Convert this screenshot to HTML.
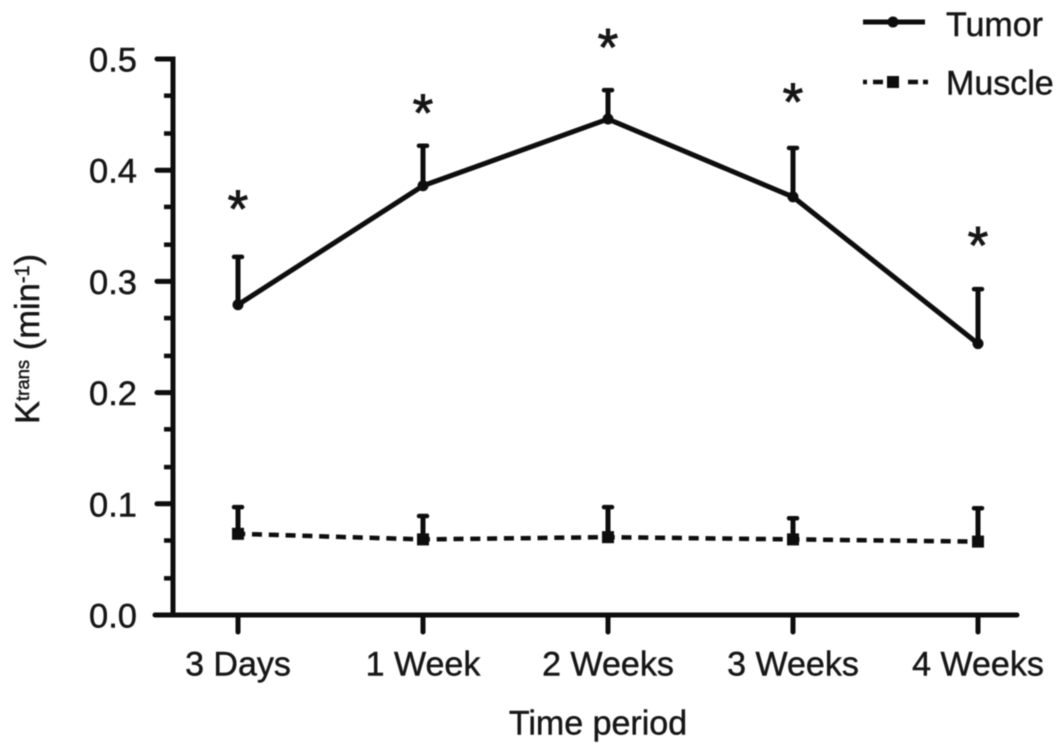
<!DOCTYPE html>
<html lang="en">
<head>
<meta charset="utf-8">
<title>Ktrans over time</title>
<style>
html,body{margin:0;padding:0;background:#fff;}
svg{display:block;}
text{font-family:"Liberation Sans",Arial,sans-serif;fill:#181818;stroke:#181818;stroke-width:0.45px;}
</style>
</head>
<body>
<svg id="chart" xmlns="http://www.w3.org/2000/svg" width="1063" height="755" viewBox="0 0 1063 755">
<defs><filter id="soft" x="-5%" y="-5%" width="110%" height="110%"><feGaussianBlur stdDeviation="0.6"/></filter></defs>
<rect width="1063" height="755" fill="#fff"/>
<g id="plot" filter="url(#soft)"></g>
</svg>
<script>
const categories = ['3 Days', '1 Week', '2 Weeks', '3 Weeks', '4 Weeks'];
const tumorValues = [0.279, 0.386, 0.446, 0.376, 0.244];
const tumorUpper = [0.322, 0.422, 0.472, 0.420, 0.293];
const muscleValues = [0.073, 0.068, 0.070, 0.068, 0.066];
const muscleUpper = [0.097, 0.089, 0.097, 0.087, 0.096];
const starValues = [0.372, 0.458, 0.517, 0.468, 0.339];
const yMajorTicks = ['0.0', '0.1', '0.2', '0.3', '0.4', '0.5'];
const yMinorTicks = [0.033, 0.067, 0.133, 0.167, 0.233, 0.267, 0.333, 0.367, 0.433, 0.467];

const NS = 'http://www.w3.org/2000/svg';
const plot = document.getElementById('plot');
const xPos = i => 238 + i * 185;
const yPos = v => 615 - v * 1112;

function make(tag, attrs, parent, content) {
  const el = document.createElementNS(NS, tag);
  for (const k in attrs) el.setAttribute(k, attrs[k]);
  if (content !== undefined) el.textContent = content;
  (parent || plot).appendChild(el);
  return el;
}
function line(x1, y1, x2, y2, w, extra) {
  return make('line', Object.assign({x1, y1, x2, y2, stroke: '#080808', 'stroke-width': w}, extra || {}));
}

// axes
let el = line(173, yPos(0.5), 173, 615, 5, {'stroke-linecap': 'square'});


el = line(155, 615, 1017, 615, 5, {'stroke-linecap': 'round'});



yMajorTicks.forEach(t => {
  const v = parseFloat(t);
  let tick = line(157, yPos(v), 173, yPos(v), 5, {'stroke-linecap': 'round'});
  
  
  let label = make('text', {x: 137, y: yPos(v) + 12.5, 'text-anchor': 'end', 'font-size': 34.5}, null, t);
  
  
});
yMinorTicks.forEach(v => {
  let tick = line(164, yPos(v), 173, yPos(v), 4.5);
  
  
});
categories.forEach((c, i) => {
  let tick = line(xPos(i), 615, xPos(i), 632, 5, {'stroke-linecap': 'round'});
  
  
  let label = make('text', {x: xPos(i), y: 675.5, 'text-anchor': 'middle', 'font-size': 34}, null, c);
  
  
});

// error bars
function errorBars(values, upper, name) {
  values.forEach((v, i) => {
    let bar = line(xPos(i), yPos(v), xPos(i), yPos(upper[i]), 5);
    
    
    let cap = line(xPos(i) - 4, yPos(upper[i]), xPos(i) + 4, yPos(upper[i]), 4.5, {'stroke-linecap': 'round'});
    
    
  });
}
errorBars(tumorValues, tumorUpper, 'tumor');
errorBars(muscleValues, muscleUpper, 'muscle');

// series
let path = make('polyline', {
  points: tumorValues.map((v, i) => xPos(i) + ',' + yPos(v)).join(' '),
  fill: 'none', stroke: '#080808', 'stroke-width': 5, 'stroke-linejoin': 'round'
});


path = make('polyline', {
  points: muscleValues.map((v, i) => xPos(i) + ',' + yPos(v)).join(' '),
  fill: 'none', stroke: '#080808', 'stroke-width': 4.5, 'stroke-dasharray': '10 6.8', 'stroke-dashoffset': 2.8
});



tumorValues.forEach((v, i) => {
  let p = make('circle', {cx: xPos(i), cy: yPos(v), r: 5.5, fill: '#080808'});
  
  
});
muscleValues.forEach((v, i) => {
  let p = make('rect', {x: xPos(i) - 6, y: yPos(v) - 6, width: 12, height: 12, fill: '#080808'});
  
  
});

// significance stars
starValues.forEach((v, i) => {
  let s = make('text', {x: xPos(i), y: yPos(v) + 25.5, 'text-anchor': 'middle', 'font-size': 53, 'style': 'stroke-width:0.9px'}, null, '*');
  
  
});

// axis titles
let xTitle = make('text', {x: 598, y: 734.5, 'text-anchor': 'middle', 'font-size': 34}, null, 'Time period');



let yTitle = make('text', {transform: 'translate(39,424) rotate(-90)', 'font-size': 34.5});


make('tspan', {}, yTitle, 'K');
make('tspan', {dy: -10, 'font-size': 18.5}, yTitle, 'trans');
make('tspan', {dy: 10}, yTitle, ' (min');
make('tspan', {dy: -10, 'font-size': 20}, yTitle, '-1');
make('tspan', {dy: 10}, yTitle, ')');

// legend
let g = make('g', {});


make('line', {x1: 863, y1: 22, x2: 925, y2: 22, stroke: '#080808', 'stroke-width': 5}, g);
make('circle', {cx: 893, cy: 22, r: 5.5, fill: '#080808'}, g);
make('text', {x: 946, y: 36, 'font-size': 34}, g, 'Tumor');

g = make('g', {});


make('line', {x1: 863, y1: 82, x2: 928, y2: 82, stroke: '#080808', 'stroke-width': 4.5, 'stroke-dasharray': '4 6 10 25 10 5 5 100'}, g);
make('rect', {x: 887, y: 76, width: 12, height: 12, fill: '#080808'}, g);
make('text', {x: 946, y: 94.5, 'font-size': 34}, g, 'Muscle');
</script>
</body>
</html>
